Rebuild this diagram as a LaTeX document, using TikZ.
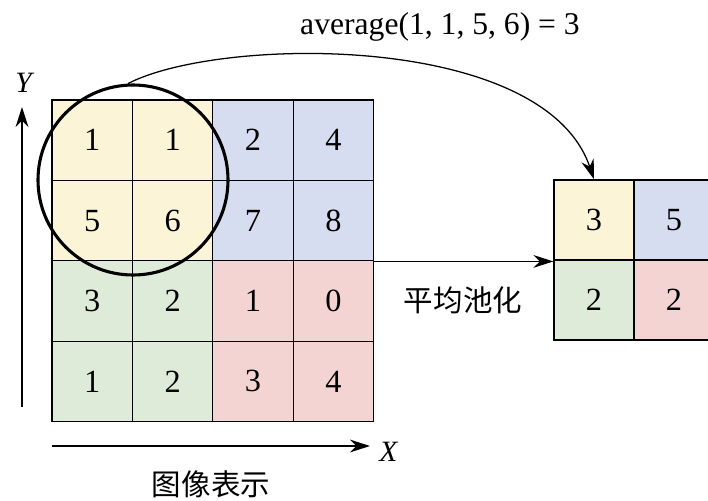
\documentclass[tikz,border=0pt]{standalone}
\usepackage{fontspec}
\setmainfont{Liberation Serif}
\newfontfamily\cjk{Noto Sans CJK SC}
\usetikzlibrary{arrows.meta, positioning}

\definecolor{cellyellow}{RGB}{251,244,214}
\definecolor{cellblue}{RGB}{214,221,241}
\definecolor{cellgreen}{RGB}{222,235,216}
\definecolor{cellred}{RGB}{244,211,211}

\tikzset{
  cell/.style={draw, line width=0.9pt, minimum size=2.01cm, inner sep=0pt,
    font=\fontsize{23}{25}\selectfont},
  smallcell/.style={cell, minimum size=2cm},
  conn/.style={line width=0.9pt, -{Stealth[length=5mm, width=3.2mm]}},
  lbl/.style={font=\fontsize{21}{24}\selectfont},
}

\begin{document}
\begin{tikzpicture}
  \useasboundingbox (0,0) rectangle (17.7,-12.5);

  % input image, 4x4
  \foreach [count=\r] \rowvals in {
      {1/cellyellow,1/cellyellow,2/cellblue,4/cellblue},
      {5/cellyellow,6/cellyellow,7/cellblue,8/cellblue},
      {3/cellgreen,2/cellgreen,1/cellred,0/cellred},
      {1/cellgreen,2/cellgreen,3/cellred,4/cellred}}{
    \foreach [count=\c] \v/\col in \rowvals {
      \node[cell, fill=\col] (l-\r-\c) at ({1.3+(\c-0.5)*2.01}, {-2.5-(\r-0.5)*2.01}) {\v};
    }
  }

  % pooled output, 2x2
  \foreach [count=\r] \rowvals in {
      {3/cellyellow,5/cellblue},
      {2/cellgreen,2/cellred}}{
    \foreach [count=\c] \v/\col in \rowvals {
      \node[smallcell, fill=\col] (r-\r-\c) at ({13.85+(\c-0.5)*2}, {-4.5-(\r-0.5)*2}) {\v};
    }
  }

  % pooling window
  \node[draw, circle, line width=2.2pt, minimum size=4.75cm] (pool) at (3.325,-4.5) {};

  \node[lbl, font=\fontsize{22.5}{25}\selectfont] (avg) at (11.0,-0.68) {average(1, 1, 5, 6) = 3};
  \draw[conn] (pool.93) .. controls (5.5,-0.9) and (13.6,-0.8) .. (r-1-1.north);

  \draw[conn] (l-2-4.south east) -- (l-2-4.south east -| r-2-1.west);
  \node[lbl, font=\cjk\fontsize{21}{24}\selectfont] (pooltxt) at (11.575,-7.5) {平均池化};

  % axes
  \coordinate (ybot) at (0.55,-10.175);
  \coordinate (ytop) at (0.55,-2.675);
  \draw[conn] (ybot) -- (ytop);
  \node[lbl] (ylab) at (0.62,-2.08) {\textit{Y}};

  \coordinate (xleft) at (1.3,-11.15);
  \coordinate (xright) at (9.25,-11.15);
  \draw[conn] (xleft) -- (xright);
  \node[lbl] (xlab) at (9.72,-11.3) {\textit{X}};

  \node[lbl, font=\cjk\fontsize{21}{24}\selectfont] (imgtxt) at (5.275,-12.1) {图像表示};
\end{tikzpicture}
\end{document}
